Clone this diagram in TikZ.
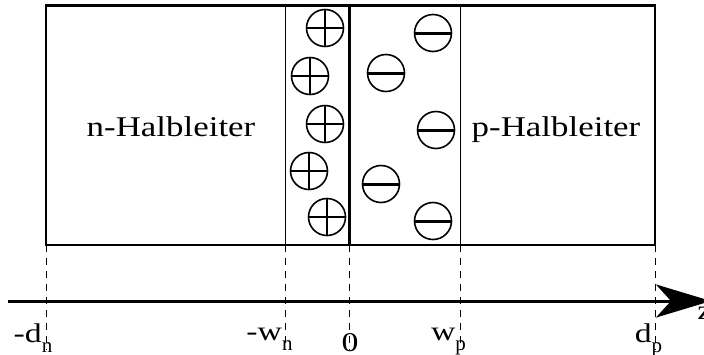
\documentclass[tikz,border=0pt]{standalone}
\usepackage{fontspec}
\setmainfont{Liberation Serif}
\usepackage{tikz}
\usetikzlibrary{arrows.meta,calc}

\newcommand\widetext[2]{\scalebox{#1}[1]{#2}}
\newcommand\lowidx[1]{\raisebox{-5pt}{\fontsize{10.5}{10}\selectfont #1}}
\newcommand\axtext[2]{\widetext{1.25}{#1}\lowidx{#2}}

\begin{document}
\begin{tikzpicture}[x=0.5pt, y=-0.5pt,
    ion/.style={circle, draw, line width=0.8pt, minimum size=18.5pt, inner sep=0pt},
    plusion/.style={ion, path picture={
        \draw[line width=1pt] (path picture bounding box.west) -- (path picture bounding box.east)
            (path picture bounding box.north) -- (path picture bounding box.south);}},
    minusion/.style={ion, path picture={
        \draw[line width=1.5pt] (path picture bounding box.west) -- (path picture bounding box.east);}},
    guide/.style={line width=0.5pt, dash pattern=on 3.5pt off 3pt},
    axislabel/.style={anchor=base, font=\fontsize{13.5}{15}\selectfont, inner sep=0pt},
    region/.style={anchor=base, font=\fontsize{14.3}{16}\selectfont, inner sep=0pt}]
            \useasboundingbox (0,0) rectangle (704,354);

            % Boundaries of the junction
            \coordinate (dn) at (46,245);
            \coordinate (wn) at (285.5,245);
            \coordinate (zero) at (349,245);
            \coordinate (wp) at (460.5,245);
            \coordinate (dp) at (655,245);

            % Box and space charge zone
            \draw[line width=1.35pt] (46,5.5) rectangle (655,245);
            \draw[line width=0.5pt] (285.5,5.5) -- (wn);
            \draw[line width=0.5pt] (460.5,5.5) -- (wp);
            \draw[line width=1.5pt] (349,5.5) -- (zero);

            % Ions
            \foreach \x/\y [count=\k] in {325/28, 310/76, 325/124, 309/171, 327/217}
                \node[plusion] (p\k) at (\x,\y) {};
            \foreach \x/\y [count=\k] in {433/33, 386/73, 436/130, 381/184, 433/221}
                \node[minusion] (m\k) at (\x,\y) {};

            \node[region] (nside) at (171,136) {\widetext{1.22}{n-Halbleiter}};
            \node[region] (pside) at (556,136) {\widetext{1.22}{p-Halbleiter}};

            % Axis
            \coordinate (zstart) at (8,301);
            \coordinate (zend) at (711,301);
            \draw[line width=1.5pt, -{Stealth[length=27.5pt, width=16.5pt, inset=7.5pt]}] (zstart) -- (zend);
            \node[axislabel, anchor=base west] (zlab) at (697,319) {\widetext{1.25}{z}};

            % Projections onto the axis
            \foreach \c in {dn,wn,zero,wp,dp}
                \draw[guide] (\c) -- ($(\c)+(0,105)$);

            % Labels
            \node[axislabel] (ldn) at (33,342) {\axtext{-d}{n}};
            \node[axislabel] (lwn) at (269.5,340) {\axtext{-w}{n}};
            \node[axislabel] (lzero) at (350,351) {\widetext{1.25}{0}};
            \node[axislabel] (lwp) at (448.5,340) {\axtext{w}{p}};
            \node[axislabel] (ldp) at (648.5,342) {\axtext{d}{p}};
        \end{tikzpicture}
\end{document}
